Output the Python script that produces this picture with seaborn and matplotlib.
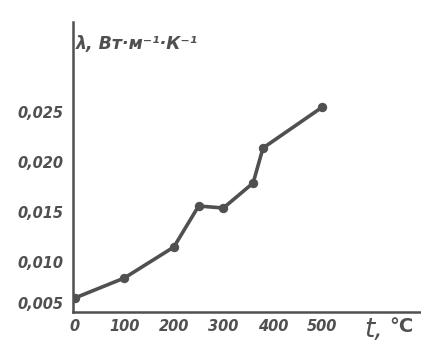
import pandas as pd
import matplotlib
matplotlib.use("Agg")
import matplotlib.pyplot as plt
import seaborn as sns

# data
t_vals = [0, 100, 200, 250, 300, 360, 380, 500]
lam_vals = [0.0064, 0.0084, 0.0115, 0.0156, 0.0154, 0.0179, 0.0214, 0.0255]
x_ticks = [0, 100, 200, 300, 400, 500]
x_labels = ["0", "100", "200", "300", "400", "500"]
y_ticks = [0.005, 0.010, 0.015, 0.020, 0.025]
y_labels = ["0,005", "0,010", "0,015", "0,020", "0,025"]

df = pd.DataFrame({"t": t_vals, "lam": lam_vals})

sns.set_style("white")
plt.rcParams["font.family"] = ["DejaVu Sans"]

ink = "#505050"
fig = plt.figure(figsize=(4.21, 3.49), dpi=100)
ax = fig.add_axes([0.173, 0.106, 0.827, 0.831])

sns.lineplot(data=df, x="t", y="lam", ax=ax, color=ink, linewidth=2.6,
             marker="o", markersize=6, markeredgecolor=ink, markerfacecolor=ink)

ax.set_xlim(-4, 699)
ax.set_ylim(0.005, 0.034)
ax.set_xticks(x_ticks)
ax.set_xticklabels(x_labels)
ax.set_yticks(y_ticks)
ax.set_yticklabels(y_labels)
ax.set_xlabel("")
ax.set_ylabel("")

for s in ["top", "right"]:
    ax.spines[s].set_visible(False)
for s in ["left", "bottom"]:
    ax.spines[s].set_color(ink)
    ax.spines[s].set_linewidth(1.8)

ax.tick_params(axis="both", direction="in", length=6, width=1.4, color=ink,
               labelcolor=ink, labelsize=10.5, pad=5)
ax.tick_params(axis="y", pad=7)
for lab in ax.get_xticklabels() + ax.get_yticklabels():
    lab.set_fontweight("bold")
    lab.set_fontstyle("italic")
ax.get_yticklabels()[0].set_va("bottom")

fig.text(0.18, 0.86, "λ, Вт·м⁻¹·К⁻¹", color=ink, fontsize=12.5,
         fontweight="bold", fontstyle="italic")
fig.text(0.865, 0.035, "t,", color=ink, fontsize=19, fontstyle="italic")
fig.text(0.925, 0.05, "°C", color=ink, fontsize=14, fontweight="bold")

plt.savefig("out.png", dpi=100)
